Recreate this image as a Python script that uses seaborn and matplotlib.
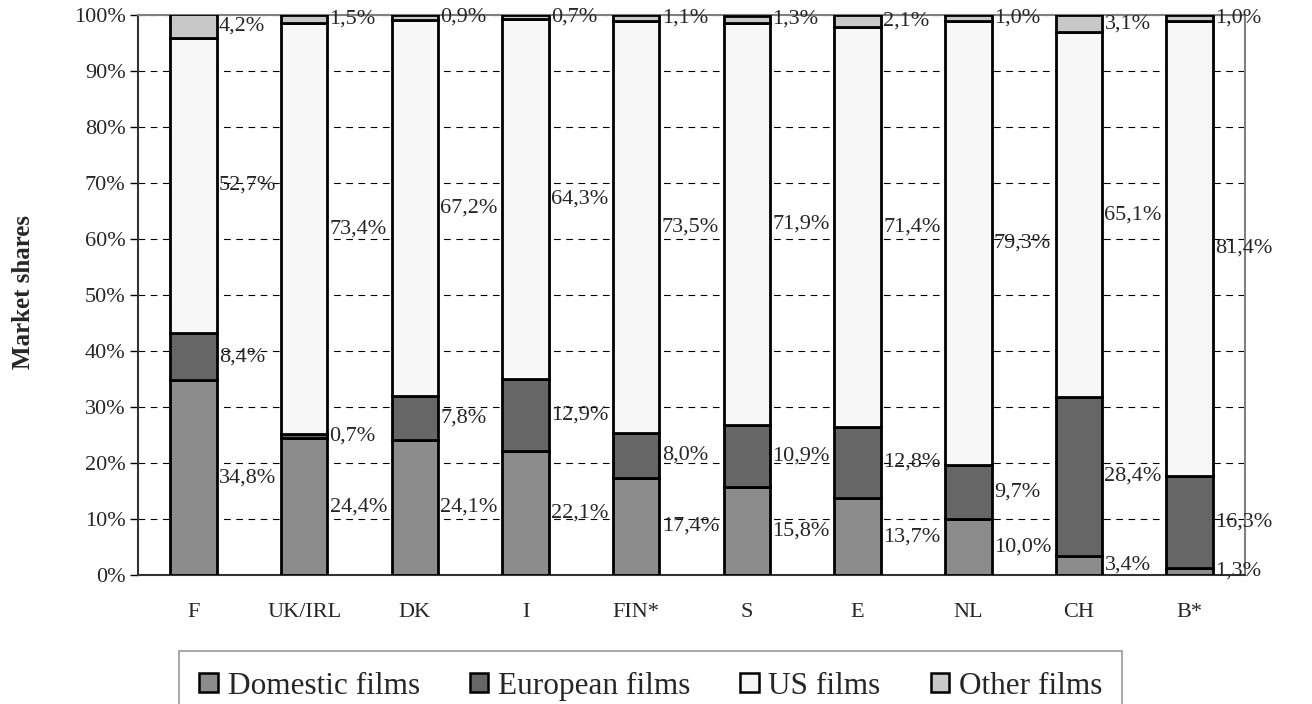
import pandas as pd
import numpy as np
import matplotlib
matplotlib.use("Agg")
import matplotlib.pyplot as plt
from matplotlib.patches import Patch
import seaborn as sns

# データ（市場シェア %）
countries = ["F", "UK/IRL", "DK", "I", "FIN*", "S", "E", "NL", "CH", "B*"]
domestic = [34.8, 24.4, 24.1, 22.1, 17.4, 15.8, 13.7, 10.0, 3.4, 1.3]
european = [8.4, 0.7, 7.8, 12.9, 8.0, 10.9, 12.8, 9.7, 28.4, 16.3]
us_films = [52.7, 73.4, 67.2, 64.3, 73.5, 71.9, 71.4, 79.3, 65.1, 81.4]
other = [4.2, 1.5, 0.9, 0.7, 1.1, 1.3, 2.1, 1.0, 3.1, 1.0]

series = ["Domestic films", "European films", "US films", "Other films"]
colors = ["#8c8c8c", "#666666", "#f7f7f7", "#c8c8c8"]

df = pd.DataFrame({"country": countries,
                   "Domestic films": domestic,
                   "European films": european,
                   "US films": us_films,
                   "Other films": other})

sns.set_style("white")
plt.rcParams["font.family"] = ["Liberation Serif", "DejaVu Serif"]

fig = plt.figure(figsize=(13.12, 7.04), dpi=100)
ax = fig.add_axes([0.1052, 0.1832, 0.8438, 0.7955])

bar_w = 0.42
bottom = np.zeros(len(countries))
for name, col in zip(series, colors):
    sns.barplot(data=df, x="country", y=name, bottom=bottom, color=col,
                edgecolor="black", linewidth=2, width=bar_w, ax=ax,
                saturation=1, zorder=3)
    # ラベルはバーの右側、各セグメントの中央
    for i, v in enumerate(df[name]):
        ax.text(i + bar_w / 2 + 0.02, bottom[i] + v / 2,
                f"{v:.1f}%".replace(".", ","), ha="left", va="center",
                fontsize=16, zorder=4)
    bottom = bottom + df[name].values

ax.set_xlim(-0.5, len(countries) - 0.5)
ax.set_ylim(0, 100)
ax.set_yticks(range(0, 101, 10))
ax.set_yticklabels([f"{t}%" for t in range(0, 101, 10)], fontsize=16)
ax.set_xticks(range(len(countries)))
ax.set_xticklabels(countries, fontsize=16)
ax.set_xticks(np.arange(-0.5, len(countries), 1), minor=True)
ax.tick_params(axis="x", which="major", length=0, pad=20)
ax.tick_params(axis="x", which="minor", length=6, width=1, color="black")
ax.tick_params(axis="y", length=6, width=1, color="black", left=True, pad=3)
ax.grid(axis="y", linestyle=(0, (6, 5)), color="black", linewidth=0.8, zorder=0)
ax.set_xlabel("")
ax.set_ylabel("")
fig.text(0.018, 0.585, "Market shares", rotation=90, ha="center", va="center",
         fontsize=18, fontweight="bold")

for s in ["top", "right"]:
    ax.spines[s].set_color("#808080")
    ax.spines[s].set_linewidth(1.5)
for s in ["left", "bottom"]:
    ax.spines[s].set_color("#333333")
    ax.spines[s].set_linewidth(1.5)

handles = [Patch(facecolor=c, edgecolor="black", linewidth=1.8) for c in colors]
leg = fig.legend(handles, series, loc="upper center", bbox_to_anchor=(0.496, 0.075),
                 ncol=4, fontsize=22.5, frameon=True, fancybox=False,
                 handlelength=0.6, handleheight=0.6, handletextpad=0.3,
                 columnspacing=1.6, borderpad=0.65, borderaxespad=0)
leg.get_frame().set_edgecolor("#808080")
leg.get_frame().set_linewidth(1.2)

fig.savefig("out.png", dpi=100)
